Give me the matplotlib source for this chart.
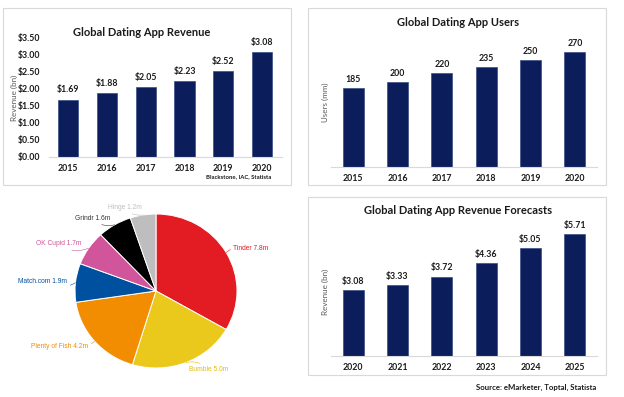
import numpy as np
import matplotlib.pyplot as plt

plt.rcParams['font.family'] = ['Lato', 'DejaVu Sans']

W, H = 624, 397
NAVY = '#0B1E5B'
GRID = '#D9D9D9'

# Chart data
rev_years = ['2015', '2016', '2017', '2018', '2019', '2020']
rev_values = [1.69, 1.88, 2.05, 2.23, 2.52, 3.08]

user_years = ['2015', '2016', '2017', '2018', '2019', '2020']
user_values = [185, 200, 220, 235, 250, 270]

fc_years = ['2020', '2021', '2022', '2023', '2024', '2025']
fc_values = [3.08, 3.33, 3.72, 4.36, 5.05, 5.71]

apps = ['Tinder', 'Bumble', 'Plenty of Fish', 'Match.com', 'OK Cupid', 'Grindr', 'Hinge']
app_users = [7.8, 5.0, 4.2, 1.9, 1.7, 1.6, 1.2]
app_colors = ['#E31B23', '#EBC91C', '#F28C00', '#0050A0', '#D0559B', '#000000', '#BEBEBE']
label_colors = ['#E31B23', '#E0BC10', '#F28C00', '#0050A0', '#D0559B', '#333333', '#BEBEBE']


def rect(x0, y0, x1, y1):
    # pixel box (top-left origin) -> figure fraction
    return [x0 / W, (H - y1) / H, (x1 - x0) / W, (y1 - y0) / H]


def ftext(x, y, s, **kw):
    fig.text(x / W, (H - y) / H, s, **kw)


def border(x0, y0, x1, y1):
    fig.patches.append(plt.Rectangle((x0 / W, (H - y1) / H), (x1 - x0) / W, (y1 - y0) / H,
                                     transform=fig.transFigure, fill=False,
                                     edgecolor=GRID, linewidth=0.8))


def bar_panel(ax, cats, vals, width, fmt, pad):
    x = np.arange(len(cats))
    bars = ax.bar(x, vals, width=width, color=NAVY, edgecolor='#3A4C86', linewidth=0.5)
    ax.bar_label(bars, labels=[fmt.format(v) for v in vals], padding=pad,
                 fontsize=6.3, fontweight='bold', color='#1a1a1a')
    ax.set_xticks(x)
    ax.set_xticklabels(cats, fontsize=6.3, fontweight='bold', color='#1a1a1a')
    ax.set_xlim(-0.5, len(cats) - 0.5)
    ax.tick_params(axis='x', length=0, pad=5)
    for s in ['top', 'right', 'left']:
        ax.spines[s].set_visible(False)
    ax.spines['bottom'].set_color(GRID)
    ax.spines['bottom'].set_linewidth(0.8)
    return bars


fig = plt.figure(figsize=(W / 100, H / 100), dpi=100)

# --- Top left: revenue
border(3, 8, 291, 185)
ax1 = fig.add_axes(rect(48.6, 38, 281.6, 157))
bar_panel(ax1, rev_years, rev_values, 0.52, '${:.2f}', 4)
ax1.set_ylim(0, 3.5)
ax1.set_yticks(np.arange(0, 3.51, 0.5))
ax1.set_yticklabels(['${:.2f}'.format(v) for v in np.arange(0, 3.51, 0.5)],
                    fontsize=6.3, fontweight='bold', color='#1a1a1a')
ax1.tick_params(axis='y', length=0, pad=6)
ftext(142, 32, 'Global Dating App Revenue', ha='center', va='center',
      fontsize=8.0, fontweight='bold', color='#1a1a1a')
ftext(14, 98, 'Revenue (bn)', ha='center', va='center', rotation=90,
      fontsize=5.8, color='#595959')
ftext(271, 177, 'Blackstone, IAC, Statista', ha='right', va='center',
      fontsize=4.3, fontweight='bold', color='#1a1a1a')

# --- Top right: users
border(308, 8, 606, 185)
ax2 = fig.add_axes(rect(331, 39.2, 597, 167))
bar_panel(ax2, user_years, user_values, 0.47, '{:d}', 3)
ax2.set_ylim(0, 300)
ax2.set_yticks([])
ftext(458, 22, 'Global Dating App Users', ha='center', va='center',
      fontsize=8.0, fontweight='bold', color='#1a1a1a')
ftext(325, 102, 'Users (mm)', ha='center', va='center', rotation=90,
      fontsize=5.8, color='#595959')

# --- Bottom right: forecasts
border(308, 197, 606, 375)
ax3 = fig.add_axes(rect(331, 217.1, 597, 356))
bar_panel(ax3, fc_years, fc_values, 0.47, '${:.2f}', 3)
ax3.set_ylim(0, 6.5)
ax3.set_yticks([])
ftext(458, 211, 'Global Dating App Revenue Forecasts', ha='center', va='center',
      fontsize=8.0, fontweight='bold', color='#1a1a1a')
ftext(325, 292, 'Revenue (bn)', ha='center', va='center', rotation=90,
      fontsize=5.8, color='#595959')
ftext(596, 387, 'Source: eMarketer, Toptal, Statista', ha='right', va='center',
      fontsize=5.6, fontweight='bold', color='#1a1a1a')

# --- Bottom left: pie
cx, cy, rx, ry = 156, 291, 81, 77
lim = 1.3
ax4 = fig.add_axes(rect(cx - lim * rx, cy - lim * ry, cx + lim * rx, cy + lim * ry))
wedges, _ = ax4.pie(app_users, colors=app_colors, startangle=90, counterclock=False,
                    wedgeprops=dict(edgecolor='white', linewidth=0.7))
ax4.set_aspect('auto')
ax4.set_xlim(-lim, lim)
ax4.set_ylim(-lim, lim)
for w, name, val, c in zip(wedges, apps, app_users, label_colors):
    ang = np.deg2rad((w.theta1 + w.theta2) / 2)
    ex, ey = np.cos(ang), np.sin(ang)
    tx, ty = 1.1 * ex, 1.1 * ey
    ax4.annotate(f'{name} {val:.1f}m', xy=(ex, ey), xytext=(tx, ty),
                 ha='left' if ex > 0 else 'right', va='center',
                 fontsize=4.8, color=c, family=['Liberation Sans', 'DejaVu Sans'],
                 arrowprops=dict(arrowstyle='-', color=c, lw=0.4, shrinkA=0, shrinkB=0,
                                 connectionstyle='arc3,rad=0.3'))

fig.savefig('out.png', dpi=100)
